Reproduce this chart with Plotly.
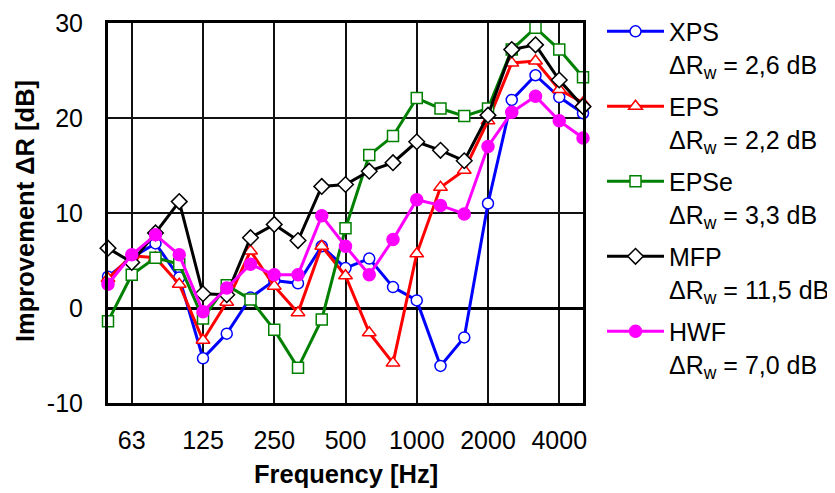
import plotly.graph_objects as go

freqs = [50, 63, 80, 100, 125, 160, 200, 250, 315, 400, 500, 630, 800, 1000,
         1250, 1600, 2000, 2500, 3150, 4000, 5000]
tick_freqs = [63, 125, 250, 500, 1000, 2000, 4000]
y_ticks = [-10, 0, 10, 20, 30]

xps = [3.3, 5.3, 6.8, 3.2, -5.3, -2.7, 1.1, 2.9, 2.6, 6.5, 4.2, 5.2, 2.2, 0.8,
       -6.1, -3.1, 11.0, 21.9, 24.5, 22.2, 20.5]
eps = [3.1, 5.5, 5.3, 2.5, -3.4, 0.6, 6.0, 2.3, -0.5, 6.5, 3.4, -2.6, -5.8, 5.7,
       12.7, 14.5, 19.7, 25.8, 26.0, 23.0, 21.6]
epse = [-1.4, 3.5, 5.3, 4.6, -1.1, 2.4, 0.9, -2.3, -6.3, -1.2, 8.4, 16.1, 18.1, 22.1,
        21.0, 20.2, 21.0, 27.2, 29.5, 27.2, 24.3]
mfp = [6.3, 4.8, 7.9, 11.2, 1.5, 1.4, 7.4, 8.8, 7.1, 12.8, 13.0, 14.4, 15.3, 17.5,
       16.6, 15.5, 20.3, 27.2, 27.7, 24.0, 21.2]
hwf = [2.5, 5.6, 7.7, 5.6, -0.4, 2.1, 4.6, 3.5, 3.5, 9.7, 6.5, 3.5, 7.2, 11.4,
       10.8, 9.9, 17.0, 20.6, 22.3, 19.7, 17.9]

names = ["XPS", "EPS", "EPSe", "MFP", "HWF"]
drw = ["2,6", "2,2", "3,3", "11,5", "7,0"]
series = [xps, eps, epse, mfp, hwf]
colors = ["#0000FF", "#FF0000", "#008000", "#000000", "#FF00FF"]
symbols = ["circle", "triangle-up", "square", "diamond", "circle"]
fills = ["white", "white", "white", "white", "#FF00FF"]
sizes = [11, 12, 11, 12, 12]

x = list(range(len(freqs)))
fig = go.Figure()
for n, d, ys, c, s, f, sz in zip(names, drw, series, colors, symbols, fills, sizes):
    fig.add_trace(go.Scatter(
        x=x, y=ys, mode="lines+markers", legendgroup=n,
        name=f"{n}<br>\u0394R<sub>w</sub> = {d} dB",
        line=dict(color=c, width=3),
        marker=dict(symbol=s, size=sz, color=f, line=dict(color=c, width=1.5)),
        cliponaxis=False,
    ))

font = "Arial, Liberation Sans, sans-serif"
fig.update_layout(
    width=827, height=485,
    margin=dict(l=100, r=252, t=15, b=90, autoexpand=False),
    paper_bgcolor="white", plot_bgcolor="white",
    font=dict(family=font, size=25, color="black"),
    legend=dict(x=1.040, y=1.038, xanchor="left", yanchor="top", valign="top",
                font=dict(size=25), tracegroupgap=7, itemwidth=57, maxheight=1.0,
                bgcolor="rgba(0,0,0,0)"),
    xaxis=dict(
        range=[0, len(freqs) - 1], automargin=False,
        tickmode="array",
        tickvals=[freqs.index(f) for f in tick_freqs],
        ticktext=[str(f) for f in tick_freqs],
        showgrid=True, gridcolor="#111111", gridwidth=1.6,
        showline=True, linecolor="black", linewidth=3, mirror=True,
        ticks="", ticklabelstandoff=13,
        zeroline=False,
    ),
    yaxis=dict(
        range=[-10, 30], automargin=False,
        tickmode="array", tickvals=y_ticks, ticktext=[str(v) for v in y_ticks],
        showgrid=True, gridcolor="#111111", gridwidth=1.6,
        showline=True, linecolor="black", linewidth=3, mirror=True,
        zeroline=True, zerolinecolor="black", zerolinewidth=3,
        ticks="", ticklabelstandoff=17,
    ),
    annotations=[
        dict(text="<b>Frequency [Hz]</b>", xref="paper", yref="paper",
             x=0.5, y=-0.186, xanchor="center", yanchor="middle",
             showarrow=False, font=dict(size=25.5)),
        dict(text="<b>Improvement \u0394R [dB]</b>", xref="paper", yref="paper",
             x=-0.175, y=0.505, xanchor="center", yanchor="middle", textangle=-90,
             showarrow=False, font=dict(size=25.5)),
    ],
)
fig.write_html("out.html")
